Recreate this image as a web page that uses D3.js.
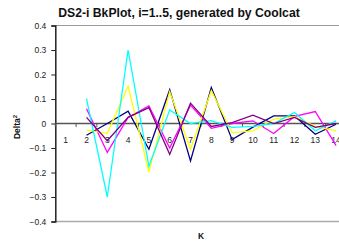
<!DOCTYPE html>
<html>
<head>
<meta charset="utf-8">
<script src="https://cdn.jsdelivr.net/npm/d3@7/dist/d3.min.js"></script>
<style>
  body { margin: 0; background: #fff; }
  text { font-family: "Liberation Sans", Arial, sans-serif; }
</style>
</head>
<body>
<div id="chart"></div>
<script>
// K categories (the axis runs on past the right edge)
var ks = [1, 2, 3, 4, 5, 6, 7, 8, 9, 10, 11, 12, 13, 14, 15];
var yTicks = [0.4, 0.3, 0.2, 0.1, 0, -0.1, -0.2, -0.3, -0.4];

// Delta^2 values for k = 2..14, one array per i
var i1 = [-0.048, 0.0, 0.05, -0.105, 0.138, -0.153, 0.147, -0.066, -0.015, 0.031, 0.031, -0.044, -0.003];
var i2 = [0.06, -0.118, 0.025, 0.072, -0.10, 0.075, -0.02, 0.0, 0.011, -0.041, 0.029, 0.049, -0.09];
var i3 = [-0.027, -0.04, 0.152, -0.198, 0.13, -0.105, 0.134, -0.037, -0.03, 0.018, 0.028, -0.012, -0.03];
var i4 = [0.102, -0.30, 0.30, -0.175, 0.055, 0.0, 0.012, -0.016, -0.012, 0.0, 0.045, -0.03, 0.011];
var i5 = [0.025, -0.07, 0.025, 0.065, -0.126, 0.083, -0.012, 0.004, 0.034, 0.0, 0.025, -0.016, 0.0];

var series = [
  { name: "i=1", color: "#000080", values: i1 },
  { name: "i=2", color: "#ff00ff", values: i2 },
  { name: "i=3", color: "#ffff00", values: i3 },
  { name: "i=4", color: "#00ffff", values: i4 },
  { name: "i=5", color: "#800080", values: i5 }
];

var width = 339, height = 244;
var plotLeft = 55.3, plotTop = 25.5, plotBottom = 221.5;
var band = 20.8;

var svg = d3.select("#chart").append("svg")
    .attr("width", width)
    .attr("height", height);

var x = d3.scaleBand()
    .domain(ks)
    .range([plotLeft, plotLeft + band * ks.length]);

var y = d3.scaleLinear()
    .domain([-0.4, 0.4])
    .range([plotBottom, plotTop]);

// plot frame: grey top and bottom
svg.append("line")
    .attr("x1", plotLeft).attr("x2", width)
    .attr("y1", y(0.4)).attr("y2", y(0.4))
    .attr("stroke", "#999").attr("stroke-width", 1);
svg.append("line")
    .attr("x1", plotLeft).attr("x2", width)
    .attr("y1", y(-0.4)).attr("y2", y(-0.4))
    .attr("stroke", "#aaa").attr("stroke-width", 1.5);

// y axis
var yAxis = d3.axisLeft(y)
    .tickValues(yTicks)
    .tickSize(4)
    .tickPadding(5)
    .tickFormat(function(d) { return d === 0 ? "0" : d3.format(".1f")(d); });

var gy = svg.append("g")
    .attr("transform", "translate(" + plotLeft + ",0)")
    .call(yAxis);
gy.select(".domain").attr("stroke", "#222").attr("stroke-width", 1.5);
gy.selectAll(".tick line").attr("stroke", "#222");
gy.selectAll(".tick text")
    .attr("fill", "#222")
    .style("font-size", "8.5px")
    .style("font-family", "Liberation Sans, Arial, sans-serif");

// category axis on the zero line
var gx = svg.append("g");
gx.append("line")
    .attr("x1", plotLeft).attr("x2", width)
    .attr("y1", y(0)).attr("y2", y(0))
    .attr("stroke", "#555").attr("stroke-width", 1.5);
gx.selectAll(".kt")
    .data(ks)
    .enter().append("line")
    .attr("x1", function(d) { return x(d); })
    .attr("x2", function(d) { return x(d); })
    .attr("y1", y(0)).attr("y2", y(0) + 3.5)
    .attr("stroke", "#555");
gx.selectAll(".kl")
    .data(ks)
    .enter().append("text")
    .attr("x", function(d) { return x(d) + x.bandwidth() / 2; })
    .attr("y", y(0) + 19)
    .attr("text-anchor", "middle")
    .attr("fill", "#222")
    .style("font-size", "8.5px")
    .text(function(d) { return d; });

// series lines
var line = d3.line()
    .x(function(d, i) { return x(ks[i + 1]) + x.bandwidth() / 2; })
    .y(function(d) { return y(d); });

svg.selectAll(".series")
    .data(series)
    .enter().append("path")
    .attr("fill", "none")
    .attr("stroke", function(d) { return d.color; })
    .attr("stroke-width", 1.3)
    .attr("d", function(d) { return line(d.values); });

// titles
svg.append("text")
    .attr("x", 179)
    .attr("y", 17)
    .attr("text-anchor", "middle")
    .style("font-size", "12.2px")
    .style("font-weight", "bold")
    .attr("fill", "#111")
    .text("DS2-i BkPlot, i=1..5, generated by Coolcat");

svg.append("text")
    .attr("x", 201)
    .attr("y", 239)
    .attr("text-anchor", "middle")
    .style("font-size", "8.5px")
    .style("font-weight", "bold")
    .attr("fill", "#111")
    .text("K");

var yt = svg.append("text")
    .attr("transform", "translate(20,127) rotate(-90)")
    .attr("text-anchor", "middle")
    .style("font-size", "8.5px")
    .style("font-weight", "bold")
    .attr("fill", "#111");
yt.append("tspan").text("Delta");
yt.append("tspan").attr("dy", -3).style("font-size", "6px").text("2");
</script>
</body>
</html>
